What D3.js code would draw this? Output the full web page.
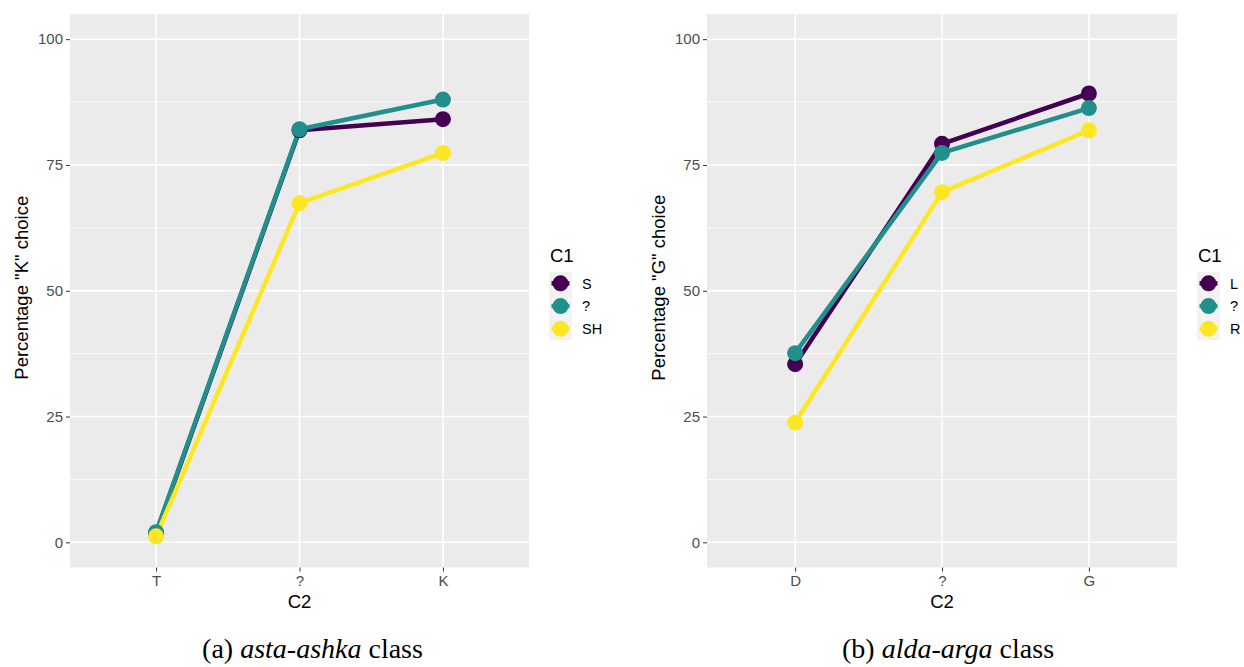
<!DOCTYPE html>
<html>
<head>
<meta charset="utf-8">
<script src="https://cdn.jsdelivr.net/npm/d3@7"></script>
<style>
  html, body { margin: 0; padding: 0; background: #fff; }
  svg { display: block; }
</style>
</head>
<body>
<svg id="chart" width="1244" height="667"></svg>
<script>
// ---- data ----
const leftCategories = ["T", "?", "K"];
const rightCategories = ["D", "?", "G"];
const leftSeriesNames = ["S", "?", "SH"];
const rightSeriesNames = ["L", "?", "R"];
const leftS  = [1.8, 81.9, 84.1];
const leftQ  = [2.0, 82.1, 88.0];
const leftSH = [1.2, 67.4, 77.4];
const rightL = [35.4, 79.2, 89.2];
const rightQ = [37.6, 77.4, 86.3];
const rightR = [23.8, 69.6, 81.9];
const yTicks = [0, 25, 50, 75, 100];
const yMinorTicks = [12.5, 37.5, 62.5, 87.5];
const seriesColors = ["#440154", "#21908C", "#FDE725"];

const svg = d3.select("#chart");
const FONT = "'Liberation Sans', Arial, sans-serif";

function drawPanel(cfg) {
  const g = svg.append("g");
  const x = d3.scalePoint().domain(cfg.categories).range([cfg.left, cfg.right]).padding(0.6);
  const y = d3.scaleLinear().domain([-5, 105]).range([cfg.bottom, cfg.top]);

  // panel background
  g.append("rect")
    .attr("x", cfg.left).attr("y", cfg.top)
    .attr("width", cfg.right - cfg.left).attr("height", cfg.bottom - cfg.top)
    .attr("fill", "#EBEBEB");

  // minor grid
  g.selectAll(".minor").data(yMinorTicks).enter().append("line")
    .attr("x1", cfg.left).attr("x2", cfg.right)
    .attr("y1", d => y(d)).attr("y2", d => y(d))
    .attr("stroke", "#fff").attr("stroke-width", 0.8);
  // major grid
  g.selectAll(".majory").data(yTicks).enter().append("line")
    .attr("x1", cfg.left).attr("x2", cfg.right)
    .attr("y1", d => y(d)).attr("y2", d => y(d))
    .attr("stroke", "#fff").attr("stroke-width", 1.5);
  g.selectAll(".majorx").data(cfg.categories).enter().append("line")
    .attr("x1", d => x(d)).attr("x2", d => x(d))
    .attr("y1", cfg.top).attr("y2", cfg.bottom)
    .attr("stroke", "#fff").attr("stroke-width", 1.5);

  // axes
  const yAxis = g.append("g").attr("transform", `translate(${cfg.left},0)`)
    .call(d3.axisLeft(y).tickValues(yTicks).tickSize(4).tickPadding(3));
  const xAxis = g.append("g").attr("transform", `translate(0,${cfg.bottom})`)
    .call(d3.axisBottom(x).tickSize(4).tickPadding(3.5));
  [yAxis, xAxis].forEach(a => {
    a.select(".domain").remove();
    a.selectAll(".tick line").attr("stroke", "#333333").attr("stroke-width", 1);
    a.selectAll(".tick text").attr("fill", "#4D4D4D")
      .style("font-family", FONT).style("font-size", "15px");
  });

  // axis titles
  g.append("text")
    .attr("x", (cfg.left + cfg.right) / 2).attr("y", 608)
    .attr("text-anchor", "middle")
    .style("font-family", FONT).style("font-size", "18.5px").attr("fill", "#000")
    .text("C2");
  g.append("text")
    .attr("transform", `translate(${cfg.left - 42},${(cfg.top + cfg.bottom) / 2 - 3}) rotate(-90)`)
    .attr("text-anchor", "middle")
    .style("font-family", FONT).style("font-size", "18.5px").attr("fill", "#000")
    .text(cfg.yTitle);

  // lines
  const line = d3.line().x((d, i) => x(cfg.categories[i])).y(d => y(d));
  cfg.series.forEach((vals, k) => {
    g.append("path").datum(vals)
      .attr("d", line)
      .attr("fill", "none")
      .attr("stroke", seriesColors[k])
      .attr("stroke-width", 4.5)
      .attr("stroke-linejoin", "round");
  });
  // points
  cfg.series.forEach((vals, k) => {
    g.selectAll(null).data(vals).enter().append("circle")
      .attr("cx", (d, i) => x(cfg.categories[i]))
      .attr("cy", d => y(d))
      .attr("r", 8)
      .attr("fill", seriesColors[k]);
  });

  // legend
  const lx = cfg.right + 21;
  g.append("text").attr("x", lx).attr("y", 262)
    .style("font-family", FONT).style("font-size", "18.5px").attr("fill", "#000")
    .text("C1");
  const keyH = 22.7, keyTop = 272;
  cfg.seriesNames.forEach((name, k) => {
    const cy = keyTop + keyH * k + keyH / 2;
    g.append("rect").attr("x", lx - 1).attr("y", keyTop + keyH * k)
      .attr("width", 23).attr("height", keyH).attr("fill", "#F2F2F2");
    g.append("line").attr("x1", lx + 1.5).attr("x2", lx + 19.5)
      .attr("y1", cy).attr("y2", cy)
      .attr("stroke", seriesColors[k]).attr("stroke-width", 4.5);
    g.append("circle").attr("cx", lx + 10.5).attr("cy", cy).attr("r", 8)
      .attr("fill", seriesColors[k]);
    g.append("text").attr("x", lx + 32).attr("y", cy + 5.2)
      .style("font-family", FONT).style("font-size", "14.5px").attr("fill", "#000")
      .text(name);
  });

  // caption
  const cap = g.append("text").attr("x", cfg.captionX).attr("y", 658)
    .attr("text-anchor", "middle")
    .style("font-family", "'Liberation Serif', 'DejaVu Serif', serif")
    .style("font-size", "28px").attr("fill", "#000");
  cap.append("tspan").text(cfg.caption[0]);
  cap.append("tspan").style("font-style", "italic").text(cfg.caption[1]);
  cap.append("tspan").text(cfg.caption[2]);
}

drawPanel({
  categories: leftCategories,
  seriesNames: leftSeriesNames,
  series: [leftS, leftQ, leftSH],
  left: 70, right: 529, top: 14, bottom: 567.5,
  yTitle: 'Percentage "K" choice',
  caption: ["(a) ", "asta-ashka", " class"],
  captionX: 312.5
});
drawPanel({
  categories: rightCategories,
  seriesNames: rightSeriesNames,
  series: [rightL, rightQ, rightR],
  left: 707, right: 1177, top: 14, bottom: 567.5,
  yTitle: 'Percentage "G" choice',
  caption: ["(b) ", "alda-arga", " class"],
  captionX: 948
});
</script>
</body>
</html>
